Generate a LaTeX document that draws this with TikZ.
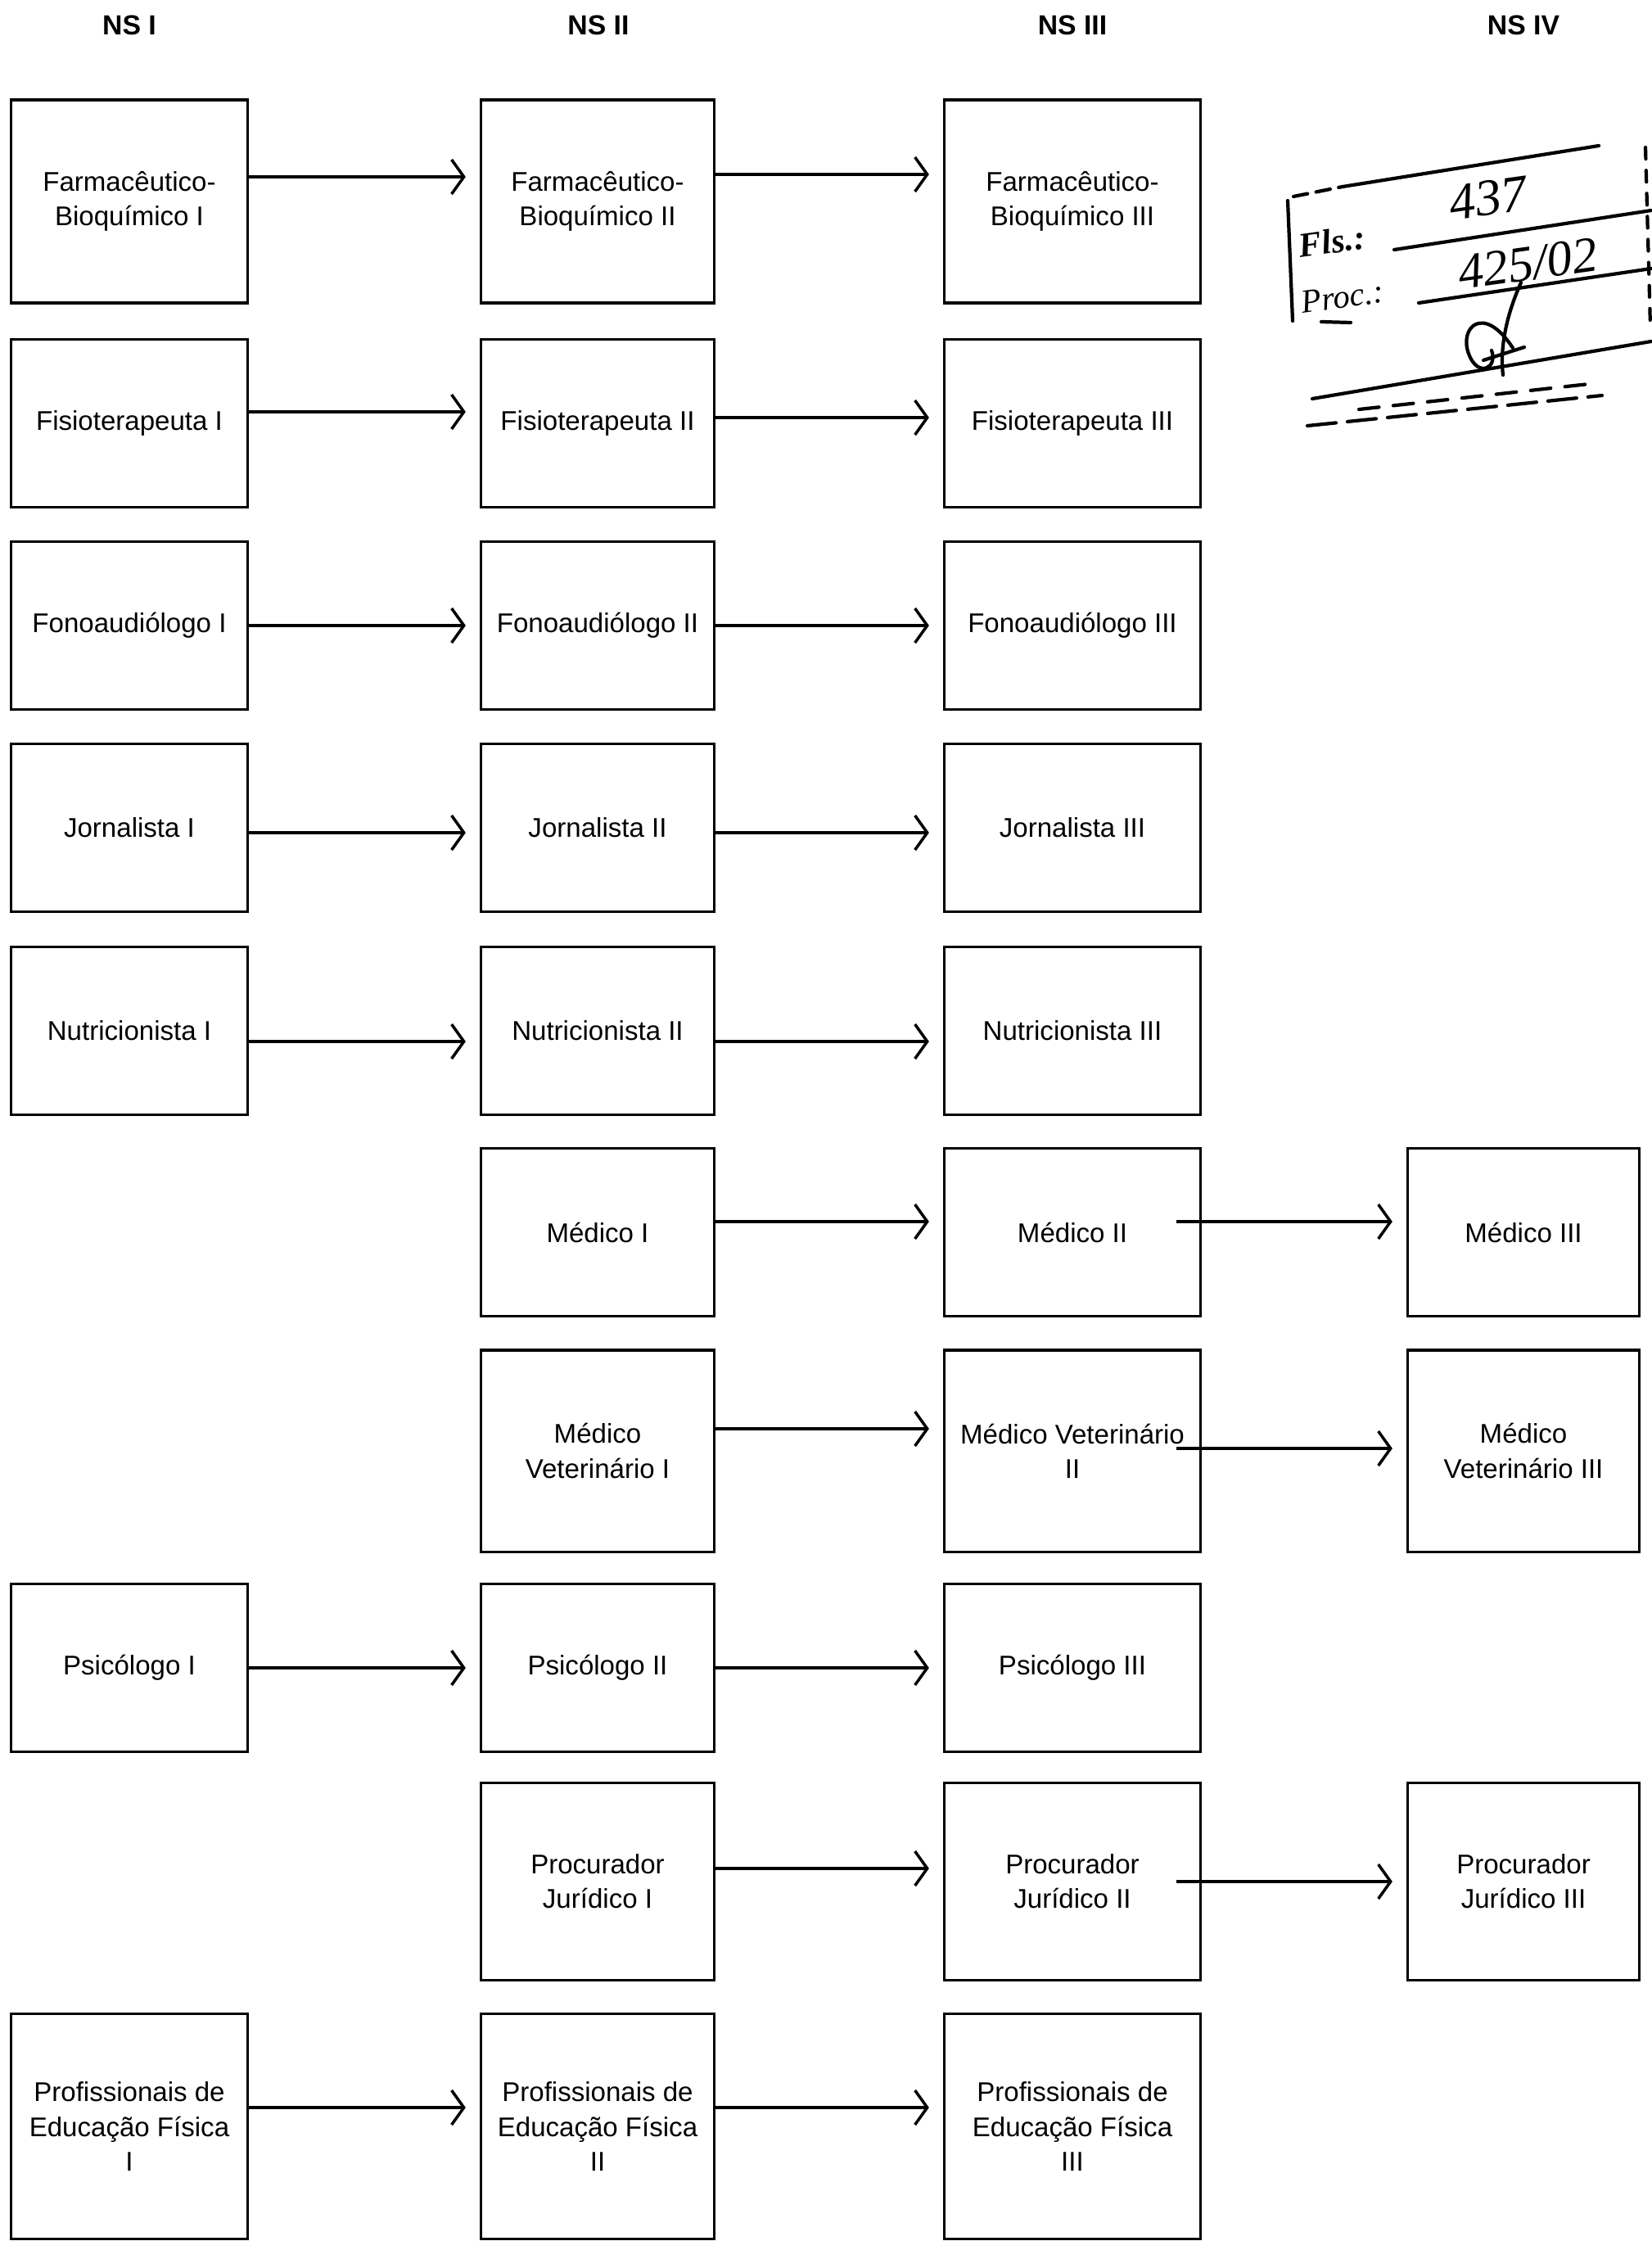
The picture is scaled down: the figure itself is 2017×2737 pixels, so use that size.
\documentclass[tikz,border=0pt]{standalone}
\usepackage{fontspec}
\setmainfont{Liberation Sans}
\newfontfamily\handfont{Liberation Serif}
\usetikzlibrary{arrows.meta}
\begin{document}
\begin{tikzpicture}[x=0.01cm,y=-0.01cm,
  box/.style={draw,line width=0.9pt,align=center,inner sep=0pt,font=\fontsize{9.4}{12}\selectfont},
  ca/.style={minimum width=2.88cm},
  cb/.style={minimum width=2.85cm},
  cc/.style={minimum width=3.13cm},
  cd/.style={minimum width=2.83cm},
  rA/.style={minimum height=2.48cm},
  rB/.style={minimum height=2.05cm},
  rC/.style={minimum height=2.46cm},
  rD/.style={minimum height=2.41cm},
  rE/.style={minimum height=2.75cm},
  arr/.style={line width=1pt,-{Straight Barb[length=0.15cm,width=0.42cm,line width=1pt]},shorten >=0.17cm},
  hdr/.style={font=\bfseries\fontsize{9.6}{12}\selectfont},
  hand/.style={rotate=8, inner sep=0pt}]
\useasboundingbox (0,0) rectangle (2017,2737);

% headers
\node[hdr] (h1) at (158,31) {NS I};
\node[hdr] (h2) at (731,31) {NS II};
\node[hdr] (h3) at (1310,31) {NS III};
\node[hdr] (h4) at (1861,31) {NS IV};

% row 1
\node[box,ca,rA] (fa1) at (158,246) {Farmacêutico-\\Bioquímico I};
\node[box,cb,rA] (fa2) at (730,246) {Farmacêutico-\\Bioquímico II};
\node[box,cc,rA] (fa3) at (1310,246) {Farmacêutico-\\Bioquímico III};
% row 2
\node[box,ca,rB] (fi1) at (158,517) {Fisioterapeuta I};
\node[box,cb,rB] (fi2) at (730,517) {Fisioterapeuta II};
\node[box,cc,rB] (fi3) at (1310,517) {Fisioterapeuta III};
% row 3
\node[box,ca,rB] (fo1) at (158,764) {Fonoaudiólogo I};
\node[box,cb,rB] (fo2) at (730,764) {Fonoaudiólogo II};
\node[box,cc,rB] (fo3) at (1310,764) {Fonoaudiólogo III};
% row 4
\node[box,ca,rB] (jo1) at (158,1011) {Jornalista I};
\node[box,cb,rB] (jo2) at (730,1011) {Jornalista II};
\node[box,cc,rB] (jo3) at (1310,1011) {Jornalista III};
% row 5
\node[box,ca,rB] (nu1) at (158,1259) {Nutricionista I};
\node[box,cb,rB] (nu2) at (730,1259) {Nutricionista II};
\node[box,cc,rB] (nu3) at (1310,1259) {Nutricionista III};
% row 6
\node[box,cb,rB] (me1) at (730,1505) {Médico I};
\node[box,cc,rB] (me2) at (1310,1505) {Médico II};
\node[box,cd,rB] (me3) at (1861,1505) {Médico III};
% row 7
\node[box,cb,rC] (mv1) at (730,1772) {Médico\\Veterinário I};
\node[box,cc,rC] (mv2) at (1310,1772) {Médico Veterinário\\II};
\node[box,cd,rC] (mv3) at (1861,1772) {Médico\\Veterinário III};
% row 8
\node[box,ca,rB] (ps1) at (158,2037) {Psicólogo I};
\node[box,cb,rB] (ps2) at (730,2037) {Psicólogo II};
\node[box,cc,rB] (ps3) at (1310,2037) {Psicólogo III};
% row 9
\node[box,cb,rD] (pj1) at (730,2298) {Procurador\\Jurídico I};
\node[box,cc,rD] (pj2) at (1310,2298) {Procurador\\Jurídico II};
\node[box,cd,rD] (pj3) at (1861,2298) {Procurador\\Jurídico III};
% row 10
\node[box,ca,rE] (pe1) at (158,2597) {Profissionais de\\Educação Física\\I};
\node[box,cb,rE] (pe2) at (730,2597) {Profissionais de\\Educação Física\\II};
\node[box,cc,rE] (pe3) at (1310,2597) {Profissionais de\\Educação Física\\III};

% arrows
\draw[arr] ([yshift=0.30cm]fa1.east) -- ([yshift=0.30cm]fa2.west);
\draw[arr] ([yshift=0.33cm]fa2.east) -- ([yshift=0.33cm]fa3.west);
\draw[arr] ([yshift=0.14cm]fi1.east) -- ([yshift=0.14cm]fi2.west);
\draw[arr] ([yshift=0.07cm]fi2.east) -- ([yshift=0.07cm]fi3.west);
\draw[arr] (fo1.east) -- (fo2.west);
\draw[arr] (fo2.east) -- (fo3.west);
\draw[arr] ([yshift=-0.06cm]jo1.east) -- ([yshift=-0.06cm]jo2.west);
\draw[arr] ([yshift=-0.06cm]jo2.east) -- ([yshift=-0.06cm]jo3.west);
\draw[arr] ([yshift=-0.13cm]nu1.east) -- ([yshift=-0.13cm]nu2.west);
\draw[arr] ([yshift=-0.13cm]nu2.east) -- ([yshift=-0.13cm]nu3.west);
\draw[arr] ([yshift=0.13cm]me1.east) -- ([yshift=0.13cm]me2.west);
\draw[arr] ([xshift=-0.31cm,yshift=0.13cm]me2.east) -- ([yshift=0.13cm]me3.west);
\draw[arr] ([yshift=0.27cm]mv1.east) -- ([yshift=0.27cm]mv2.west);
\draw[arr] ([xshift=-0.31cm,yshift=0.03cm]mv2.east) -- ([yshift=0.03cm]mv3.west);
\draw[arr] (ps1.east) -- (ps2.west);
\draw[arr] (ps2.east) -- (ps3.west);
\draw[arr] ([yshift=0.16cm]pj1.east) -- ([yshift=0.16cm]pj2.west);
\draw[arr] ([xshift=-0.31cm]pj2.east) -- (pj3.west);
\draw[arr] ([yshift=0.23cm]pe1.east) -- ([yshift=0.23cm]pe2.west);
\draw[arr] ([yshift=0.23cm]pe2.east) -- ([yshift=0.23cm]pe3.west);

% stamp
\begin{scope}[line width=1.2pt, line cap=round]
\draw[dash pattern=on 5pt off 3pt] (1580,240) -- (1640,228);
\draw (1640,228) -- (1953,178);
\draw (1573,245) -- (1579,392);
\draw (1703,305) -- (2017,257);
\draw (1733,370) -- (2017,328);
\draw (1603,487) -- (2017,417);
\draw[dash pattern=on 10pt off 4pt] (1597,520) -- (1957,483);
\draw[dash pattern=on 7pt off 5pt] (1660,500) -- (1950,468);
\draw[dash pattern=on 4pt off 4pt] (2010,180) -- (2016,400);
\draw (1614,393) -- (1650,394);
% signature
\draw (1858,345) .. controls (1840,385) and (1832,425) .. (1836,458);
\draw (1848,425) .. controls (1812,370) and (1782,400) .. (1794,432) .. controls (1805,462) and (1830,450) .. (1822,428);
\draw (1812,440) -- (1862,424);
\end{scope}
\node[hand,font=\handfont\itshape\bfseries\fontsize{12}{14}\selectfont] (fls) at (1627,295) {Fls.:};
\node[hand,font=\handfont\itshape\fontsize{11.5}{14}\selectfont] (proc) at (1640,363) {Proc.:};
\node[hand,font=\handfont\itshape\fontsize{18}{20}\selectfont] (num) at (1818,242) {437};
\node[hand,font=\handfont\itshape\fontsize{17.5}{20}\selectfont] (prc) at (1866,322) {425/02};
\end{tikzpicture}
\end{document}
